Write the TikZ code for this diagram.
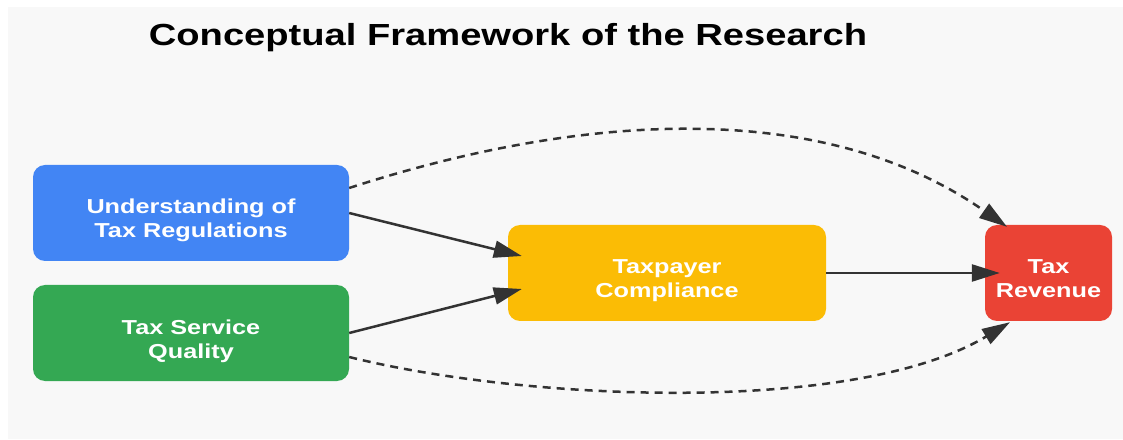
\documentclass[tikz,border=0pt]{standalone}
\usepackage{fontspec}
\usepackage{xcolor}
\usepackage{tikz}
\usetikzlibrary{arrows.meta}
\newfontfamily\wideSans{Liberation Sans}[FakeStretch=1.25]
\definecolor{bgGray}{HTML}{F8F8F8}
\definecolor{gBlue}{HTML}{4285F4}
\definecolor{gGreen}{HTML}{34A853}
\definecolor{gYellow}{HTML}{FBBC05}
\definecolor{gRed}{HTML}{EA4335}
\definecolor{arrowGray}{HTML}{333333}

\begin{document}
\begin{tikzpicture}[x=1pt,y=1pt,
  box/.style={rounded corners=12pt, minimum height=96pt, inner sep=0pt, text=white, align=center,
    text height=50pt, text depth=0pt, font=\wideSans\bfseries\fontsize{20.2}{24}\selectfont},
  link/.style={line width=2.5pt, draw=arrowGray, -{Triangle[length=28pt,width=17pt]}},
  dashlink/.style={link, dash pattern=on 8pt off 6pt}]
\useasboundingbox (0,0) rectangle (1123,439);
\fill[white] (0,0) rectangle (1123,439);
\fill[bgGray] (8,0) rectangle (1123,432);

% title
\node (title) at (508,401) {\wideSans\bfseries\fontsize{30.5}{36}\selectfont Conceptual Framework of the Research};

% the four variables
\node[box, fill=gBlue, minimum width=316pt] (underst) at (191,226) {Understanding of\\Tax Regulations};
\node[box, fill=gGreen, minimum width=316pt] (service) at (191,106) {Tax Service\\Quality};
\node[box, fill=gYellow, minimum width=318pt] (compl) at (667,166) {Taxpayer\\Compliance};
\node[box, fill=gRed, minimum width=127pt] (revenue) at (1048.5,166) {Tax\\Revenue};

% direct effects
\draw[link] (underst.east) -- ([xshift=14pt,yshift=17pt]compl.west);
\draw[link] (service.east) -- ([xshift=14pt,yshift=-16pt]compl.west);
\draw[link] (compl.east) -- ([xshift=15pt]revenue.west);

% effects on revenue
\draw[dashlink] ([yshift=25pt]underst.east) to[out=18,in=145,looseness=0.9] ([xshift=-41.5pt,yshift=-2pt]revenue.north);
\draw[dashlink] ([yshift=-24pt]service.east) to[out=-14,in=-149,looseness=0.7] ([xshift=-38.5pt,yshift=-1pt]revenue.south);
\end{tikzpicture}
\end{document}
